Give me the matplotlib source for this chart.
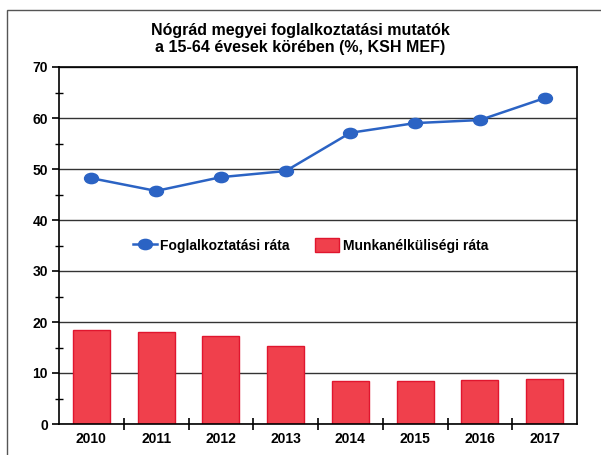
import matplotlib.pyplot as plt
from matplotlib.path import Path
from matplotlib.transforms import Affine2D
from matplotlib.patches import Rectangle

plt.rcParams['font.family'] = ['Liberation Sans', 'DejaVu Sans']

years = ['2010', '2011', '2012', '2013', '2014', '2015', '2016', '2017']
employment = [48.2, 45.7, 48.4, 49.6, 57.1, 59.0, 59.6, 63.9]
unemployment = [18.4, 18.1, 17.2, 15.2, 8.5, 8.5, 8.6, 8.8]

# wide ellipse marker like the original
ellipse = Path.unit_circle().transformed(Affine2D().scale(1.35, 1.0))

fig = plt.figure(figsize=(6.01, 4.55), dpi=100)
ax = fig.add_axes([59 / 601, 1 - 424 / 455, (577 - 59) / 601, (424 - 67) / 455])

# outer frame of the scanned chart
fig.patches.append(Rectangle((7 / 601, -0.05), 1.1, 1 - 10 / 455 + 0.05,
                             transform=fig.transFigure, fill=False,
                             edgecolor='#555555', linewidth=1.0))

x = list(range(len(years)))
ax.bar(x, unemployment, width=0.57, color='#f0404c', edgecolor='#e0162e',
       linewidth=1.0, label='Munkanélküliségi ráta', zorder=2)
ax.plot(x, employment, color='#2b63c4', linewidth=1.8, marker=ellipse,
        markersize=10, markerfacecolor='#2b63c4', markeredgecolor='#2b63c4',
        label='Foglalkoztatási ráta', zorder=3)

ax.set_xlim(-0.5, 7.5)
ax.set_ylim(0, 70)
ax.set_yticks(range(0, 71, 10))
ax.set_yticks(range(5, 70, 10), minor=True)
ax.set_xticks(x)
ax.set_xticklabels(years)
ax.set_xticks([i + 0.5 for i in x[:-1]], minor=True)

ax.grid(axis='y', color='#333333', linewidth=1.0, zorder=0)
ax.set_axisbelow(True)
for s in ax.spines.values():
    s.set_linewidth(1.2)

ax.tick_params(axis='x', which='major', length=0, pad=6, labelsize=10)
ax.tick_params(axis='x', which='minor', direction='inout', length=8, width=1.2)
ax.tick_params(axis='y', which='major', direction='out', length=5, width=1.2,
               labelsize=10, pad=3)
ax.tick_params(axis='y', which='minor', direction='inout', length=6, width=1.0)
for lbl in ax.get_xticklabels() + ax.get_yticklabels():
    lbl.set_fontweight('bold')

fig.text(0.5, 1 - 39 / 455, 'Nógrád megyei foglalkoztatási mutatók\na 15-64 évesek körében (%, KSH MEF)',
         ha='center', va='center', fontsize=11.5, fontweight='bold',
         linespacing=1.15)

leg = ax.legend(loc='center', ncol=2, frameon=False, handlelength=1.75,
                handleheight=1.2, columnspacing=1.8, handletextpad=0.25,
                prop={'weight': 'bold', 'size': 10})
leg.set_bbox_to_anchor((3.38, 35), transform=ax.transData)

fig.savefig('out.png', dpi=100)
